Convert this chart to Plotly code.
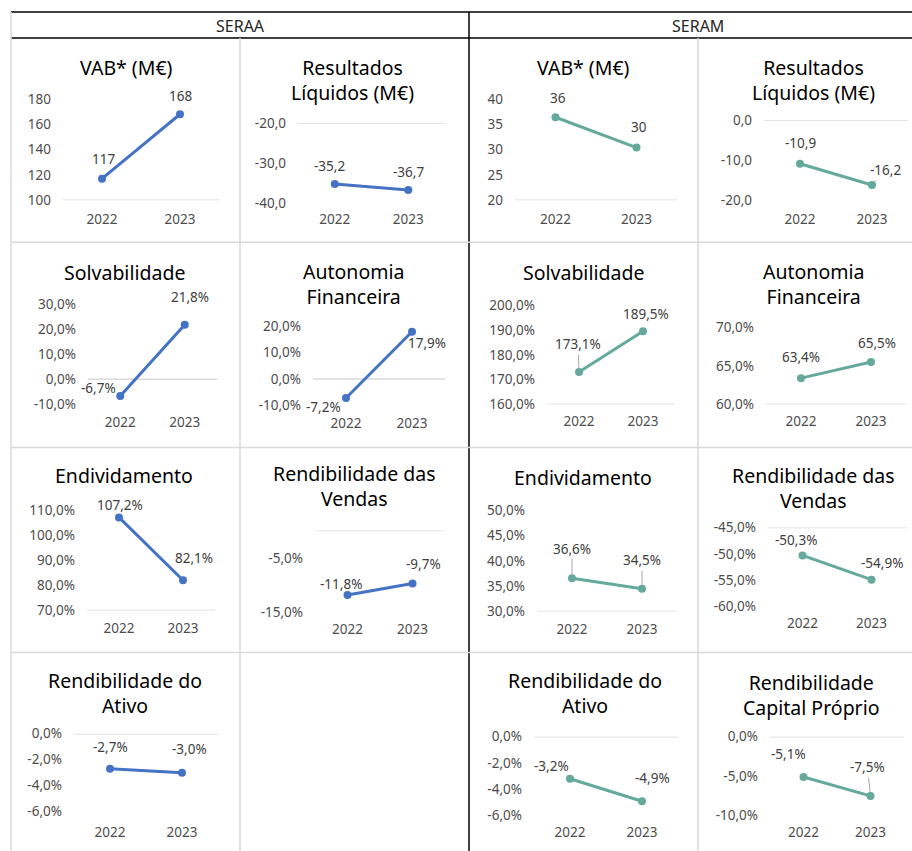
import plotly.graph_objects as go

# ---------------- DATA ----------------
years = ["2022", "2023"]

group_labels = ["SERAA", "SERAM"]

# SERAA series
seraa_vab = [117, 168]
seraa_resultados = [-35.2, -36.7]
seraa_solvabilidade = [-6.7, 21.8]
seraa_autonomia = [-7.2, 17.9]
seraa_endividamento = [107.2, 82.1]
seraa_rend_vendas = [-11.8, -9.7]
seraa_rend_ativo = [-2.7, -3.0]

# SERAM series
seram_vab = [36.4, 30.4]
seram_resultados = [-10.9, -16.2]
seram_solvabilidade = [173.1, 189.5]
seram_autonomia = [63.4, 65.5]
seram_endividamento = [36.6, 34.5]
seram_rend_vendas = [-50.3, -54.9]
seram_rend_ativo = [-3.2, -4.9]
seram_rend_cap_proprio = [-5.1, -7.5]

# chart titles
t_vab = "VAB* (M€)"
t_res = "Resultados<br>Líquidos (M€)"
t_solv = "Solvabilidade"
t_auto = "Autonomia<br>Financeira"
t_endiv = "Endividamento"
t_rv = "Rendibilidade das<br>Vendas"
t_ra = "Rendibilidade do<br>Ativo"
t_rcp = "Rendibilidade<br>Capital Próprio"

# y-axis ranges and tick values
ticks_seraa_vab = [100, 120, 140, 160, 180]
ticks_seraa_res = [-40, -30, -20]
ticks_seraa_solv = [-10, 0, 10, 20, 30]
ticks_seraa_auto = [-10, 0, 10, 20]
ticks_seraa_endiv = [70, 80, 90, 100, 110]
ticks_seraa_rv = [-15, -5]
ticks_seraa_ra = [-6, -4, -2, 0]
ticks_seram_vab = [20, 25, 30, 35, 40]
ticks_seram_res = [-20, -10, 0]
ticks_seram_solv = [160, 170, 180, 190, 200]
ticks_seram_auto = [60, 65, 70]
ticks_seram_endiv = [30, 35, 40, 45, 50]
ticks_seram_rv = [-60, -55, -50, -45]
ticks_seram_ra = [-6, -4, -2, 0]
ticks_seram_rcp = [-10, -5, 0]

range_seraa_vab = [100, 180]
range_seraa_res = [-40, -20]
range_seraa_solv = [-10, 30]
range_seraa_auto = [-10, 20]
range_seraa_endiv = [70, 110]
range_seraa_rv = [-15, 0]
range_seraa_ra = [-6, 0]
range_seram_vab = [20, 40]
range_seram_res = [-20, 0]
range_seram_solv = [160, 200]
range_seram_auto = [60, 70]
range_seram_endiv = [30, 50]
range_seram_rv = [-60, -45]
range_seram_ra = [-6, 0]
range_seram_rcp = [-10, 0]

# ---------------- STYLE ----------------
BLUE = "#4472C4"
TEAL = "#64A99B"
FONT = "Noto Sans, Open Sans, DejaVu Sans, sans-serif"

# (title, values, color, decimals, suffix, range, ticks)
charts = [
    (t_vab, seraa_vab, BLUE, 0, "", range_seraa_vab, ticks_seraa_vab),
    (t_res, seraa_resultados, BLUE, 1, "", range_seraa_res, ticks_seraa_res),
    (t_vab, seram_vab, TEAL, 0, "", range_seram_vab, ticks_seram_vab),
    (t_res, seram_resultados, TEAL, 1, "", range_seram_res, ticks_seram_res),
    (t_solv, seraa_solvabilidade, BLUE, 1, "%", range_seraa_solv, ticks_seraa_solv),
    (t_auto, seraa_autonomia, BLUE, 1, "%", range_seraa_auto, ticks_seraa_auto),
    (t_solv, seram_solvabilidade, TEAL, 1, "%", range_seram_solv, ticks_seram_solv),
    (t_auto, seram_autonomia, TEAL, 1, "%", range_seram_auto, ticks_seram_auto),
    (t_endiv, seraa_endividamento, BLUE, 1, "%", range_seraa_endiv, ticks_seraa_endiv),
    (t_rv, seraa_rend_vendas, BLUE, 1, "%", range_seraa_rv, ticks_seraa_rv),
    (t_endiv, seram_endividamento, TEAL, 1, "%", range_seram_endiv, ticks_seram_endiv),
    (t_rv, seram_rend_vendas, TEAL, 1, "%", range_seram_rv, ticks_seram_rv),
    (t_ra, seraa_rend_ativo, BLUE, 1, "%", range_seraa_ra, ticks_seraa_ra),
    (t_ra, seram_rend_ativo, TEAL, 1, "%", range_seram_ra, ticks_seram_ra),
    (t_rcp, seram_rend_cap_proprio, TEAL, 1, "%", range_seram_rcp, ticks_seram_rcp),
]

# layout in target pixels: x0, x1, ytop, ybot, title x, title y, label offsets, leader flags
layouts = [
    dict(x0=63, x1=219, yt=99, yb=200, tx=126, ty=67, lab=[(1, -19), (0, -18)], lead=[0, 0]),
    dict(x0=298, x1=445, yt=123, yb=203, tx=352, ty=80, lab=[(-5, -18), (0, -18)], lead=[0, 0]),
    dict(x0=515, x1=677, yt=99, yb=200, tx=583, ty=67, lab=[(2, -19), (2, -20)], lead=[0, 0]),
    dict(x0=764, x1=908, yt=120, yb=200, tx=813, ty=80, lab=[(0, -20), (13, -15)], lead=[0, 1]),
    dict(x0=88, x1=217, yt=304, yb=404, tx=124, ty=272, lab=[(-22, -8), (5, -27)], lead=[0, 0]),
    dict(x0=313, x1=445, yt=326, yb=405, tx=353, ty=284, lab=[(-23, 9), (15, 11)], lead=[0, 0]),
    dict(x0=547, x1=675, yt=305, yb=404, tx=583, ty=272, lab=[(-1, -27), (3, -17)], lead=[1, 0]),
    dict(x0=766, x1=906, yt=327, yb=404, tx=813, ty=284, lab=[(0, -21), (6, -19)], lead=[0, 0]),
    dict(x0=87, x1=215, yt=510, yb=610, tx=124, ty=475, lab=[(1, -12), (11, -22)], lead=[0, 0]),
    dict(x0=315, x1=445, yt=530, yb=612, tx=354, ty=486, lab=[(-7, -11), (11, -19)], lead=[0, 0]),
    dict(x0=537, x1=677, yt=510, yb=611, tx=583, ty=477, lab=[(0, -29), (0, -28)], lead=[1, 1]),
    dict(x0=768, x1=906, yt=527, yb=606, tx=813, ty=488, lab=[(-7, -15), (10, -16)], lead=[0, 0]),
    dict(x0=74, x1=218, yt=733, yb=811, tx=125, ty=692, lab=[(0, -21), (7, -23)], lead=[0, 0]),
    dict(x0=534, x1=678, yt=736, yb=815, tx=585, ty=692, lab=[(-19, -13), (10, -23)], lead=[0, 0]),
    dict(x0=770, x1=904, yt=736, yb=815, tx=811, ty=694, lab=[(-15, -22), (-3, -28)], lead=[0, 1]),
]
xlabel_y = [220, 220, 220, 220, 423, 424, 422, 422, 629, 630, 630, 624, 833, 833, 833]

W, H = 912, 851
# the captured page maps figure y to picture y as  9 + 0.978*y ; undo that
Y_OFF, Y_SCALE = 9.0, 0.978


def px(x):
    return x / W


def fy(y):
    """target picture pixel -> figure pixel"""
    return (y - Y_OFF) / Y_SCALE


def py(y):
    return 1 - fy(y) / H


def fmt(v, dec, suffix):
    s = f"{v:.{dec}f}".replace(".", ",")
    return s + suffix


fig = go.Figure()
axes = {}
annotations = []
shapes = []
TICKFONT = dict(family=FONT, size=13.5, color="#4D4D4D")
LABFONT = dict(family=FONT, size=13.5, color="#404040")

for i, (c, L) in enumerate(zip(charts, layouts), start=1):
    title, values, color, dec, suffix, yr, yt = c
    xa = "x" if i == 1 else f"x{i}"
    ya = "y" if i == 1 else f"y{i}"
    fig.add_trace(go.Scatter(
        x=years, y=values, xaxis=xa, yaxis=ya, mode="lines+markers",
        line=dict(color=color, width=3), marker=dict(color=color, size=8),
        cliponaxis=False, showlegend=False, hoverinfo="skip"))
    xkey = "xaxis" if i == 1 else f"xaxis{i}"
    ykey = "yaxis" if i == 1 else f"yaxis{i}"
    axes[xkey] = dict(
        domain=[px(L["x0"]), px(L["x1"])], anchor=ya, type="category",
        range=[-0.5, 1.5], showgrid=False, zeroline=False, showline=False,
        ticks="", tickfont=TICKFONT,
        ticklabelstandoff=max(0, round((xlabel_y[i - 1] - L["yb"]) / Y_SCALE - 11)),
        fixedrange=True)
    axes[ykey] = dict(
        domain=[py(L["yb"]), py(L["yt"])], anchor=xa, range=yr, tickvals=yt,
        ticktext=[fmt(t, dec, suffix) for t in yt], showgrid=False, zeroline=False,
        showline=False, ticks="", ticklabelstandoff=11,
        tickfont=TICKFONT, fixedrange=True)
    lo, hi = yr
    cross = lo if lo >= 0 else (hi if hi <= 0 else 0)
    shapes.append(dict(type="line", xref=f"{xa} domain", yref=ya, x0=0, x1=1,
                       y0=cross, y1=cross, line=dict(color="#D9D9D9", width=1.5),
                       layer="below"))
    annotations.append(dict(text=title, x=px(L["tx"]), y=py(L["ty"]), xref="paper",
                            yref="paper", showarrow=False, xanchor="center",
                            yanchor="middle",
                            font=dict(family=FONT, size=19.5, color="#000000")))
    for j, v in enumerate(values):
        dx, dy = L["lab"][j]
        dy = dy / Y_SCALE
        txt = fmt(v, dec, suffix)
        if L["lead"][j]:
            annotations.append(dict(
                text=txt, x=j, y=v, xref=xa, yref=ya, showarrow=True,
                ax=dx, ay=dy, arrowhead=0, arrowwidth=1, arrowcolor="#A6A6A6",
                standoff=4, font=LABFONT))
        else:
            annotations.append(dict(
                text=txt, x=j, y=v, xref=xa, yref=ya, showarrow=False,
                xshift=dx, yshift=-dy, font=LABFONT))

# table frame
BLACK = "#000000"
GREY = "#D9D9D9"
frame = [
    (11, 12, 912, 12, BLACK),
    (11, 38, 912, 38, BLACK),
    (469, 12, 469, 851, BLACK),
    (11, 12, 11, 851, GREY),
    (240, 38, 240, 851, GREY),
    (698, 38, 698, 851, GREY),
    (11, 242, 912, 242, GREY),
    (11, 447, 912, 447, GREY),
    (11, 652, 912, 652, GREY),
]
for x0, y0, x1, y1, col in frame:
    shapes.append(dict(type="line", xref="paper", yref="paper", x0=px(x0), y0=py(y0),
                       x1=px(x1), y1=py(y1), line=dict(color=col, width=1.5)))

for name, cx in zip(group_labels, [240, 698]):
    annotations.append(dict(text=name, x=px(cx), y=py(26), xref="paper", yref="paper",
                            showarrow=False, xanchor="center", yanchor="middle",
                            font=dict(family=FONT, size=16, color="#262626")))

fig.update_layout(
    width=W, height=H, margin=dict(l=0, r=0, t=0, b=0),
    paper_bgcolor="white", plot_bgcolor="white", separators=",.",
    annotations=annotations, shapes=shapes, showlegend=False, **axes)

fig.write_html(
    "out.html",
    config={"displayModeBar": False, "staticPlot": True},
    post_script=(
        "document.documentElement.style.margin='0';"
        "document.body.style.margin='0';document.body.style.overflow='hidden';"
        "var d=document.getElementById('{plot_id}');"
        "d.style.position='fixed';d.style.top='0px';d.style.left='0px';"
    ),
)
